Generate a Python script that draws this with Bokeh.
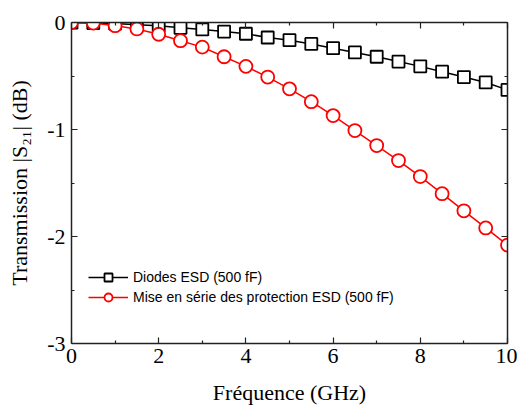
from bokeh.plotting import figure
from bokeh.models import LinearAxis, Legend, LegendItem, FixedTicker
from bokeh.embed import file_html
from bokeh.resources import INLINE

freq = [0, 0.5, 1, 1.5, 2, 2.5, 3, 3.5, 4, 4.5, 5, 5.5, 6, 6.5, 7, 7.5, 8, 8.5, 9, 9.5, 10]
diodes = [0.0, -0.005, -0.01, -0.02, -0.03, -0.05, -0.065, -0.085, -0.105, -0.14, -0.165,
          -0.2, -0.24, -0.28, -0.32, -0.365, -0.41, -0.46, -0.51, -0.56, -0.63]
serie = [0.0, -0.005, -0.03, -0.06, -0.11, -0.17, -0.23, -0.32, -0.41, -0.51, -0.62,
         -0.74, -0.87, -1.01, -1.15, -1.29, -1.44, -1.60, -1.76, -1.92, -2.08]
x_ticks = [0, 2, 4, 6, 8, 10]
x_minor = [1, 3, 5, 7, 9]
y_ticks = [-3, -2, -1, 0]
y_minor = [-2.5, -1.5, -0.5]
y_tick_labels = {-3: "-3", -2: "-2", -1: "-1", 0: "0"}
label_diodes = "Diodes ESD (500 fF)"
label_serie = "Mise en série des protection ESD (500 fF)"

SERIF = "Liberation Serif"
SANS = "Liberation Sans"
AX = "#222222"

p = figure(width=517, height=407, x_range=(0, 10), y_range=(-3, 0),
           output_backend="svg", toolbar_location=None,
           min_border_left=71, min_border_right=10, min_border_top=22, min_border_bottom=64,
           x_axis_location=None, y_axis_location=None)
p.grid.visible = False
p.outline_line_color = None
p.background_fill_color = "white"

def style_axis(ax, labels=True):
    ax.axis_line_color = AX
    ax.axis_line_width = 1.5
    ax.major_tick_line_color = AX
    ax.minor_tick_line_color = AX
    ax.major_tick_line_width = 1.2
    ax.minor_tick_line_width = 1.2
    ax.major_tick_in = 6
    ax.major_tick_out = 0
    ax.minor_tick_in = 3
    ax.minor_tick_out = 0
    ax.major_label_text_font = SERIF
    ax.major_label_text_font_size = "22px"
    ax.major_label_text_color = "black"
    ax.axis_label_text_font = SERIF
    ax.axis_label_text_font_size = "22px"
    ax.axis_label_text_font_style = "normal"
    ax.axis_label_text_color = "black"
    if not labels:
        ax.major_label_text_font_size = "1px"
        ax.major_label_text_color = None
        ax.major_label_standoff = 0

xb = LinearAxis(ticker=FixedTicker(ticks=x_ticks, minor_ticks=x_minor), axis_label="Fréquence (GHz)")
style_axis(xb)
xb.major_label_standoff = 5
xb.axis_label_standoff = 14
p.add_layout(xb, "below")

yl = LinearAxis(ticker=FixedTicker(ticks=y_ticks, minor_ticks=y_minor), axis_label="Transmission |S₂₁| (dB)",
                major_label_overrides=y_tick_labels)
style_axis(yl)
yl.major_label_standoff = 6
yl.axis_label_standoff = 12
p.add_layout(yl, "left")

xt = LinearAxis(ticker=FixedTicker(ticks=x_ticks, minor_ticks=x_minor))
style_axis(xt, labels=False)
p.add_layout(xt, "above")

yr = LinearAxis(ticker=FixedTicker(ticks=y_ticks, minor_ticks=y_minor))
style_axis(yr, labels=False)
p.add_layout(yr, "right")

l1 = p.line(freq, diodes, line_color="black", line_width=1.5)
s1 = p.scatter(freq, diodes, marker="square", size=12, line_color="black", fill_color="white", line_width=1.8)
l2 = p.line(freq, serie, line_color="#ff0000", line_width=1.5)
s2 = p.scatter(freq, serie, marker="circle", size=13, line_color="#ff0000", fill_color="white", line_width=1.8)

legend = Legend(items=[LegendItem(label=label_diodes, renderers=[l1, s1]),
                       LegendItem(label=label_serie, renderers=[l2, s2])],
                location=(17, 36))
legend.label_text_font = SANS
legend.label_text_font_size = "14px"
legend.label_text_color = "black"
legend.glyph_width = 40
legend.glyph_height = 20
legend.label_height = 20
legend.label_standoff = 5
legend.spacing = 0
legend.padding = 0
legend.margin = 0
legend.border_line_color = None
legend.background_fill_alpha = 0
p.add_layout(legend, "center")

open("out.html", "w").write(file_html(p, INLINE))
